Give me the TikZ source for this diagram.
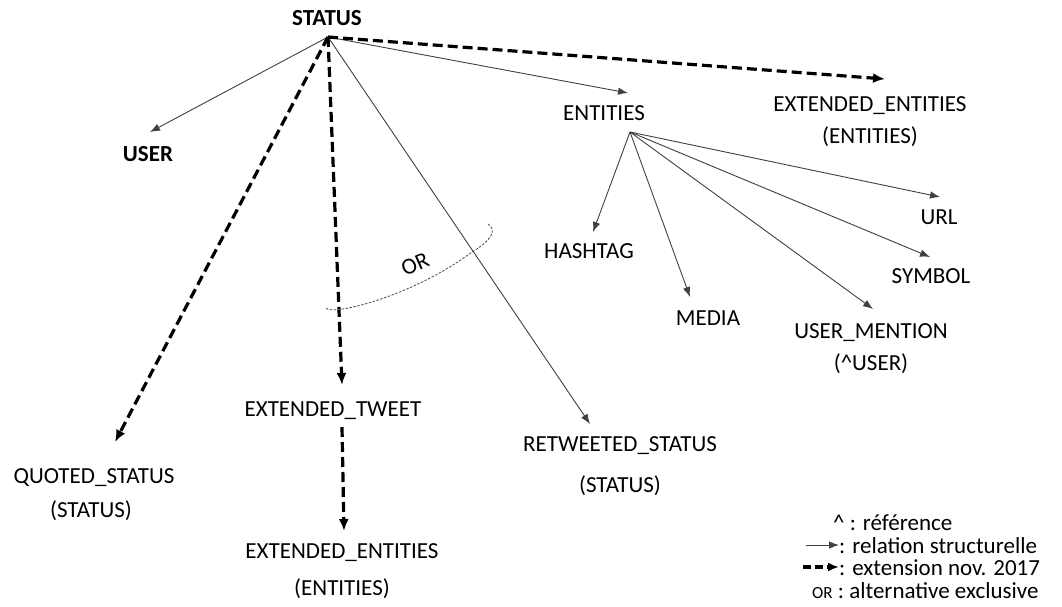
\documentclass[tikz,border=0pt]{standalone}
\usepackage{fontspec}
\setmainfont{Carlito}
\usetikzlibrary{arrows.meta}
\begin{document}
\begin{tikzpicture}[x=1pt,y=-1pt,
  lbl/.style={anchor=base,inner sep=0pt,font=\fontsize{23}{28}\selectfont},
  lgd/.style={anchor=base west,inner sep=0pt,font=\fontsize{23}{27}\selectfont},
  thin/.style={draw=black!75,line width=0.9pt,-{Latex[length=10pt,width=7.5pt]}},
  ext/.style={draw=black,line width=3.2pt,dash pattern=on 10pt off 5pt,-{Latex[length=12pt,width=10pt]}},
  ordash/.style={draw=black!70,line width=0.8pt,dash pattern=on 2.5pt off 1.5pt}]
\useasboundingbox (0,0) rectangle (1062,606);
% labels
\node[lbl,font=\fontsize{23}{28}\selectfont\bfseries] (status) at (327,25) {STATUS};
\node[lbl,font=\fontsize{23}{28}\selectfont\bfseries] (user) at (148,161) {USER};
\node[lbl] (eetop) at (870,111) {EXTENDED\_ENTITIES};
\node[lbl] (eetopb) at (870,143) {(ENTITIES)};
\node[lbl] (entities) at (604,120) {ENTITIES};
\node[lbl] (hashtag) at (589,258) {HASHTAG};
\node[lbl] (url) at (939,224) {URL};
\node[lbl] (symbol) at (931,283) {SYMBOL};
\node[lbl] (media) at (708,325) {MEDIA};
\node[lbl] (um) at (871,338) {USER\_MENTION};
\node[lbl] (umb) at (871,370) {(\^{}USER)};
\node[lbl] (et) at (333,416) {EXTENDED\_TWEET};
\node[lbl] (qs) at (94,483) {QUOTED\_STATUS};
\node[lbl] (qsb) at (91,517) {(STATUS)};
\node[lbl] (rs) at (620,451) {RETWEETED\_STATUS};
\node[lbl] (rsb) at (620,492) {(STATUS)};
\node[lbl] (eebot) at (342,558) {EXTENDED\_ENTITIES};
\node[lbl] (eebotb) at (342,595) {(ENTITIES)};
\node[lbl,anchor=center,rotate=24] (or) at (415,264) {OR};
% hubs and tips
\coordinate (hub) at (328,37);
\coordinate (ehub) at (630,132);
\coordinate (tuser) at (150,132);
\coordinate (tent) at (628,93);
\coordinate (teetop) at (885,79);
\coordinate (tqs) at (115,442);
\coordinate (tet) at (342,385);
\coordinate (trs) at (590,424);
\coordinate (setb) at (342,427);
\coordinate (teebot) at (344,531);
\coordinate (thash) at (593,232);
\coordinate (tmedia) at (690,297);
\coordinate (tum) at (873,309);
\coordinate (tsym) at (930,257);
\coordinate (turl) at (940,197);
% connectors
\draw[thin] (hub) -- (tuser);
\draw[thin] (hub) -- (tent);
\draw[thin] (hub) -- (trs);
\draw[ext] (hub) -- (teetop);
\draw[ext] (hub) -- (tqs);
\draw[ext] (hub) -- (tet);
\draw[ext] (setb) -- (teebot);
\draw[thin] (ehub) -- (thash);
\draw[thin] (ehub) -- (tmedia);
\draw[thin] (ehub) -- (tum);
\draw[thin] (ehub) -- (tsym);
\draw[thin] (ehub) -- (turl);
% OR arc
\coordinate (ora) at (326,308);
\coordinate (orm) at (472,252);
\coordinate (orb) at (488,224);
\draw[ordash] (ora) .. controls (330,316) and (410,298) .. (orm) .. controls (492,240) and (497,230) .. (orb);
% legend
\node[lgd] (l1) at (833,530) {\^{} : référence};
\coordinate (l2a) at (806,545);
\coordinate (l2b) at (839,545);
\draw[thin] (l2a) -- (l2b);
\node[lgd] (l2) at (839,553) {: relation structurelle};
\coordinate (l3a) at (803,567);
\coordinate (l3b) at (839,567);
\draw[ext,dash pattern=on 8pt off 4pt,-{Latex[length=11pt,width=9pt]}] (l3a) -- (l3b);
\node[lgd] (l3) at (839,575) {: extension nov. 2017};
\node[lgd] (l4) at (812,598) {{\fontsize{17}{17}\selectfont OR} : alternative exclusive};
\end{tikzpicture}
\end{document}
